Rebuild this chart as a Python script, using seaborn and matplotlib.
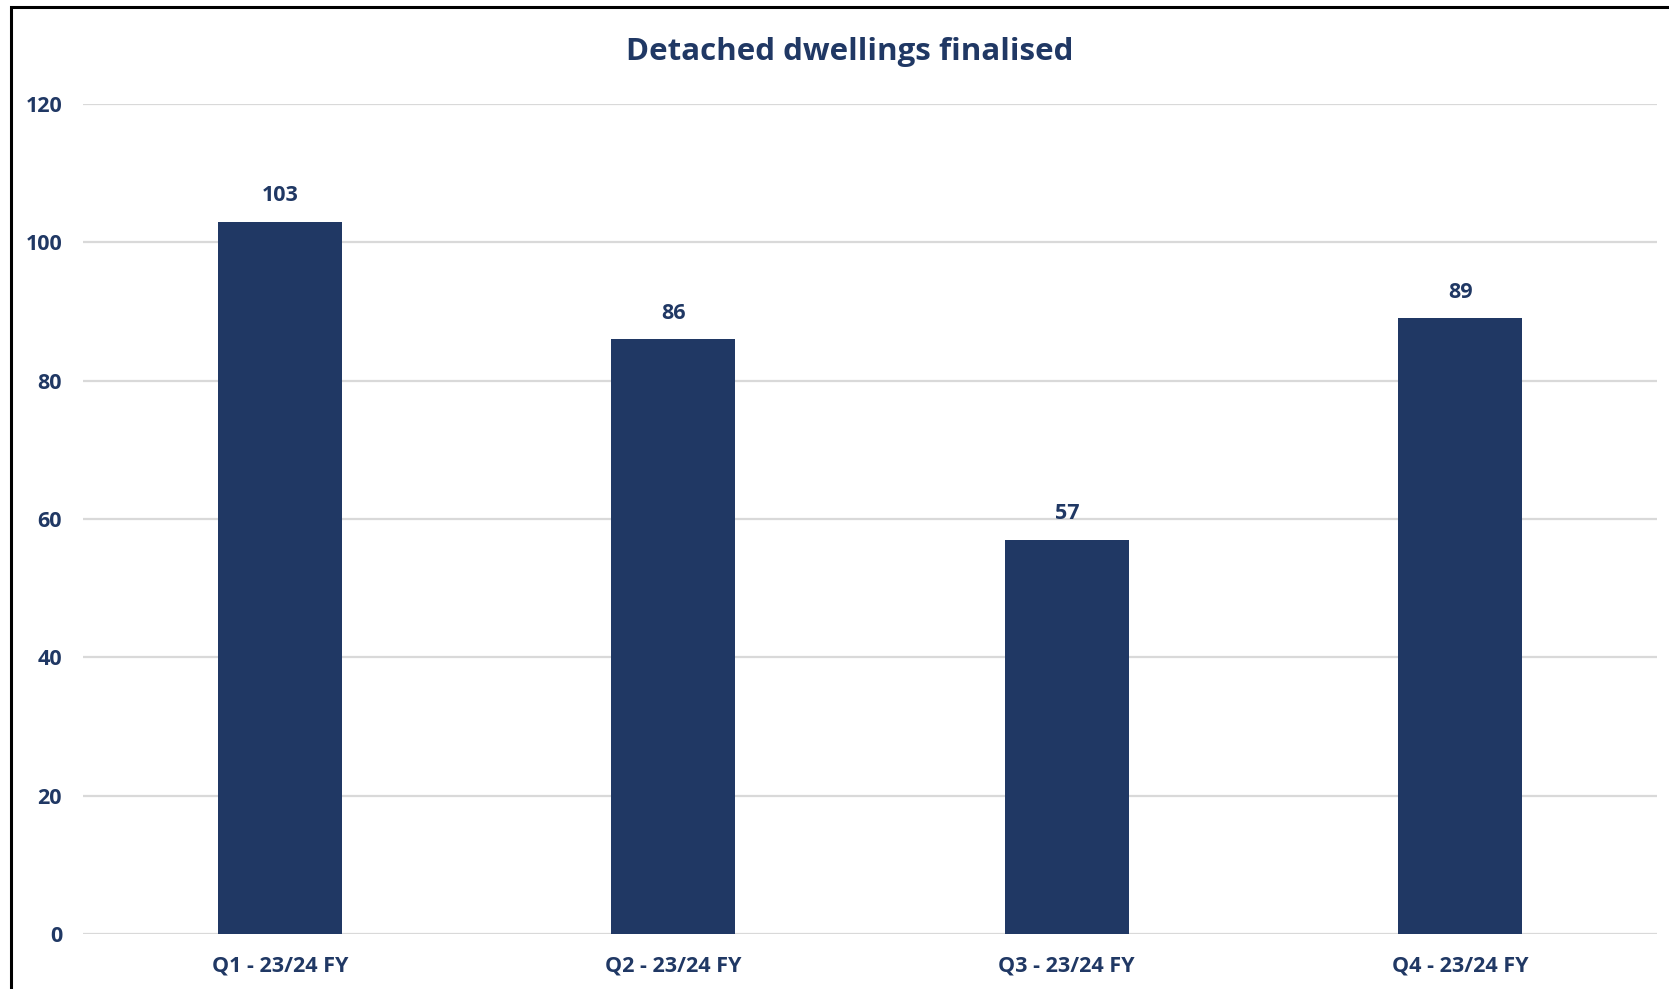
import matplotlib
matplotlib.use("Agg")
import matplotlib.pyplot as plt
from matplotlib.patches import Rectangle
import seaborn as sns
import pandas as pd

quarters = ["Q1 - 23/24 FY", "Q2 - 23/24 FY", "Q3 - 23/24 FY", "Q4 - 23/24 FY"]
finalised = [103, 86, 57, 89]
y_ticks = [0, 20, 40, 60, 80, 100, 120]

NAVY = "#203864"
GRID = "#D9D9D9"

sns.set_style("white")
plt.rcParams["font.family"] = ["Open Sans", "DejaVu Sans"]

df = pd.DataFrame({"quarter": quarters, "count": finalised})

W, H = 1669, 989
fig = plt.figure(figsize=(W / 100, H / 100), dpi=100)
ax = fig.add_axes([83 / W, 55 / H, (1657 - 83) / W, (934 - 104) / H])

ax.set_ylim(0, 120)
ax.set_yticks(y_ticks)
for t in y_ticks:
    ax.axhline(t, color=GRID, lw=1.6, zorder=0)

sns.barplot(data=df, x="quarter", y="count", color=NAVY, width=0.315,
            saturation=1, linewidth=0, ax=ax, zorder=2)

for i, v in enumerate(finalised):
    ax.annotate(str(v), xy=(i, v), xytext=(0, 26), textcoords="offset pixels",
                ha="center", va="center", fontsize=15.5, fontweight="bold",
                color=NAVY)

ax.set_xlim(-0.5, 3.5)
ax.set_xlabel("")
ax.set_ylabel("")
for s in ax.spines.values():
    s.set_visible(False)
ax.tick_params(axis="y", length=0, pad=15, labelsize=15.5, labelcolor=NAVY)
ax.tick_params(axis="x", length=0, pad=15.5, labelsize=15.5, labelcolor=NAVY)
for lbl in ax.get_xticklabels() + ax.get_yticklabels():
    lbl.set_fontweight("bold")

fig.text(850 / W, 1 - 52 / H, "Detached dwellings finalised", ha="center",
         va="center", fontsize=22.5, fontweight="bold", color=NAVY)

# outer chart frame (left and top edges fall within the canvas)
fig.patches.append(Rectangle((11 / W, -0.1), 1.2, 1 - 7 / H + 0.1,
                             transform=fig.transFigure, fill=False,
                             edgecolor="black", lw=2.2, zorder=10))

fig.savefig("out.png", dpi=100)
